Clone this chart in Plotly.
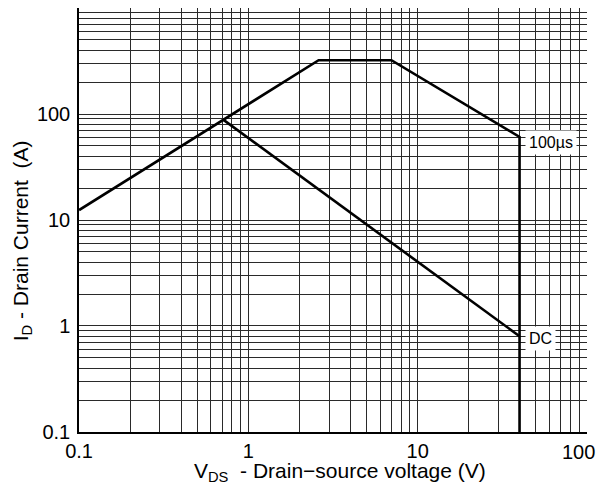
import math
import plotly.graph_objects as go

# Data (safe operating area)
vds_100us = [0.1, 2.6, 7.0, 40.0, 40.0]
id_100us = [12.4, 322.0, 322.0, 60.7, 0.1]
vds_dc = [0.713, 40.0]
id_dc = [88.0, 0.8]

curve_labels = ["100µs", "DC"]
label_x = [40.0, 40.0]
label_y = [54.0, 0.76]

x_decades = [0.1, 1, 10, 100]
y_decades = [0.1, 1, 10, 100]
y_top = 1000
x_tick_text = ["0.1", "1", "10", "100"]
y_tick_text = ["0.1", "1", "10", "100"]
x_title = "V<sub>DS</sub>  - Drain−source voltage (V)"
y_title = "I<sub>D</sub> - Drain Current  (A)"


def minor_ticks(decades):
    vals = []
    for d in decades[:-1]:
        for k in range(2, 10):
            vals.append(round(d * k, 6))
    return vals


FONT = "Liberation Sans, Arial, sans-serif"
GRID = "#2a2a2a"

fig = go.Figure()
fig.add_trace(go.Scatter(x=vds_100us, y=id_100us, mode="lines",
                         line=dict(color="black", width=2.6), showlegend=False))
fig.add_trace(go.Scatter(x=vds_dc, y=id_dc, mode="lines",
                         line=dict(color="black", width=2.6), showlegend=False))

for t, lx, ly in zip(curve_labels, label_x, label_y):
    fig.add_annotation(x=math.log10(lx), y=math.log10(ly), xref="x", yref="y",
                       text=t, showarrow=False,
                       xanchor="left", yanchor="middle", xshift=5,
                       bgcolor="white", borderpad=3,
                       font=dict(family=FONT, size=16, color="black"))

# last x tick label drawn shifted left so it fits inside the figure
fig.add_annotation(x=math.log10(x_decades[-1]), y=0, xref="x", yref="paper",
                   text=x_tick_text[-1], showarrow=False,
                   xanchor="right", yanchor="top", xshift=10, yshift=-7,
                   font=dict(family=FONT, size=20, color="black"))

# y-axis title
fig.add_annotation(x=-0.112, y=0.45, xref="paper", yref="paper",
                   text=y_title, showarrow=False, textangle=-90,
                   xanchor="center", yanchor="middle",
                   font=dict(family=FONT, size=21, color="black"))

# x-axis title
fig.add_annotation(x=0.514, y=0, xref="paper", yref="paper",
                   text=x_title, showarrow=False,
                   xanchor="center", yanchor="top", yshift=-26, borderpad=0,
                   font=dict(family=FONT, size=21, color="black"))

axis_common = dict(
    type="log",
    showgrid=True, gridcolor=GRID, gridwidth=1,
    showline=True, linecolor="black", linewidth=1.5, mirror=False,
    ticks="", zeroline=False,
    tickfont=dict(family=FONT, size=20, color="black"),
)

fig.update_xaxes(**axis_common, range=[-1.0005, 2.0005], tickmode="array",
                 tickvals=x_decades[:-1], ticktext=x_tick_text[:-1],
                 minor=dict(tickmode="array",
                            tickvals=minor_ticks(x_decades) + [x_decades[-1]],
                            showgrid=True, gridcolor=GRID, gridwidth=1, ticks=""))
fig.update_yaxes(**axis_common, range=[-1.0005, 3.0005], tickmode="array",
                 tickvals=y_decades, ticktext=y_tick_text,
                 ticklabelstandoff=3,
                 minor=dict(tickmode="array",
                            tickvals=minor_ticks(y_decades + [y_top]) + [y_top],
                            showgrid=True, gridcolor=GRID, gridwidth=1, ticks=""))

fig.update_layout(
    width=598, height=494,
    margin=dict(l=79, r=11, t=8, b=62),
    plot_bgcolor="white", paper_bgcolor="white",
    font=dict(family=FONT, color="black"),
)

fig.write_html("out.html")
